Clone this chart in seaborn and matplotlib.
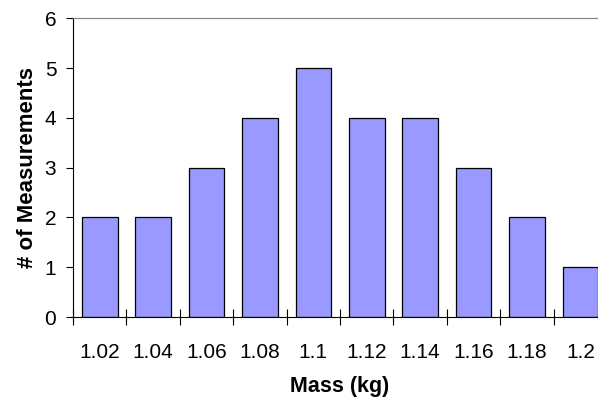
import numpy as np
import pandas as pd
import matplotlib
matplotlib.use("Agg")
import matplotlib.pyplot as plt
import seaborn as sns

masses = ["1.02", "1.04", "1.06", "1.08", "1.1", "1.12", "1.14", "1.16", "1.18", "1.2"]
counts = [2, 2, 3, 4, 5, 4, 4, 3, 2, 1]

sns.set_style("white")
plt.rcParams['font.family'] = ['Liberation Sans', 'DejaVu Sans']
plt.rcParams['text.color'] = 'black'
plt.rcParams['axes.labelcolor'] = 'black'
plt.rcParams['xtick.color'] = 'black'
plt.rcParams['ytick.color'] = 'black'

df = pd.DataFrame({'mass': masses, 'count': counts})

fig = plt.figure(figsize=(5.98, 4.04), dpi=100)
ax = fig.add_axes([0.1221, 0.2153, 0.893, 0.7394])

sns.barplot(data=df, x='mass', y='count', color='#9999FF', saturation=1,
            edgecolor='black', linewidth=0.9, width=0.667, ax=ax)

ax.set_xlim(-0.5, len(masses) - 0.5)
ax.set_ylim(0, 6)
ax.set_yticks(range(0, 7))

# ticks on category boundaries, labels in the middle
ax.set_xticks(np.arange(len(masses) + 1) - 0.5)
ax.set_xticklabels([])
ax.set_xticks(np.arange(len(masses)), minor=True)
ax.set_xticklabels(masses, minor=True)
ax.tick_params(axis='x', which='major', bottom=True, direction='inout', length=11, width=0.8, color='black')
ax.tick_params(axis='x', which='minor', bottom=True, length=0, pad=19, labelsize=15, labelcolor='black')
ax.tick_params(axis='y', direction='out', length=5, width=0.8, color='black', pad=7, labelsize=15,
               left=True, labelcolor='black')

ax.spines['right'].set_visible(False)
ax.spines['top'].set_color('#808080')
ax.spines['top'].set_linewidth(0.8)
ax.spines['left'].set_color('black')
ax.spines['bottom'].set_color('black')
ax.spines['left'].set_linewidth(0.8)
ax.spines['bottom'].set_linewidth(0.8)

ax.set_xlabel('Mass (kg)', fontsize=15.5, fontweight='bold', labelpad=10, color='black')
ax.set_ylabel('# of Measurements', fontsize=16, fontweight='bold', labelpad=5, color='black')

fig.savefig('out.png', dpi=100)
